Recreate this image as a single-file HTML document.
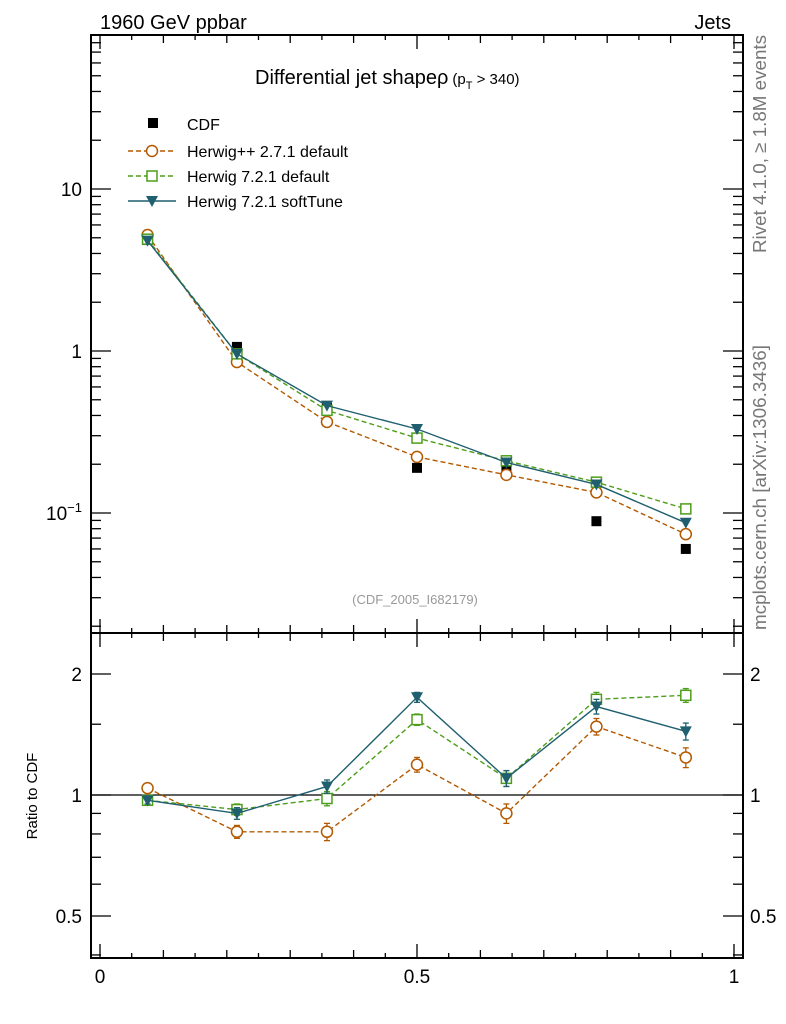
<!DOCTYPE html>
<html><head><meta charset="utf-8"><style>
body{margin:0;background:#fff;}
svg{display:block;font-family:"Liberation Sans",sans-serif;}
</style></head><body>
<svg id="c" width="786" height="1024"></svg>
<script>
const xVals=[0.075,0.216,0.358,0.5,0.641,0.783,0.924];
const cdf=[4.84,1.06,0.445,0.19,0.187,0.089,0.06];
const hpp=[5.2,0.855,0.365,0.222,0.172,0.134,0.074];
const h7=[4.9,0.96,0.43,0.29,0.21,0.155,0.106];
const h7s=[4.8,0.96,0.46,0.33,0.205,0.15,0.087];
const rHpp=[1.04,0.81,0.81,1.19,0.90,1.48,1.24];
const rH7=[0.97,0.92,0.98,1.54,1.10,1.73,1.77];
const rH7s=[0.97,0.90,1.05,1.75,1.10,1.66,1.44];
const rErr=[0.02,0.03,0.04,0.05,0.05,0.07,0.07];
const xTicks=[0,0.5,1];
const yTicks=[0.1,1,10];
const rTicks=[0.5,1,2];

const NS="http://www.w3.org/2000/svg";
const svg=document.getElementById('c');
function el(t,a,p){const e=document.createElementNS(NS,t);for(const k in a)e.setAttribute(k,a[k]);(p||svg).appendChild(e);return e;}
const L=91,R=743,T=35,M=633,B=958;
const X=v=>100+v*634;
const Y=v=>189-(Math.log10(v)-1)*162;
const RY=v=>795-Math.log2(v)*121;

let f1=el('rect',{x:L,y:T,width:R-L,height:M-T,fill:'none',stroke:'#000','stroke-width':2});

let f2=el('rect',{x:L,y:M,width:R-L,height:B-M,fill:'none',stroke:'#000','stroke-width':2});


for(let i=0;i<=20;i++){const v=i*0.05,x=X(v);const len=(i%10==0)?14:(i%2==0?8:5);
 for(const yb of [M,B]){el('line',{x1:x,x2:x,y1:yb,y2:yb-len,stroke:'#000','stroke-width':1.3});}
 el('line',{x1:x,x2:x,y1:T,y2:T+len,stroke:'#000','stroke-width':1.3});
 el('line',{x1:x,x2:x,y1:M,y2:M+len,stroke:'#000','stroke-width':1.3});}
xTicks.forEach(v=>{const t=el('text',{x:X(v),y:983,'font-size':19,'text-anchor':'middle'});t.textContent=String(v);
 });

for(let d=-2;d<=1;d++)for(let m=1;m<=9;m++){const v=m*Math.pow(10,d),y=Y(v);if(y<T||y>M)continue;
 const len=m==1?20:10;el('line',{x1:L,x2:L+len,y1:y,y2:y,stroke:'#000','stroke-width':1.3});el('line',{x1:R,x2:R-len,y1:y,y2:y,stroke:'#000','stroke-width':1.3});}
yTicks.forEach(v=>{const y=Y(v);const t=el('text',{x:82,y:y+7,'font-size':19,'text-anchor':'end'});
 
 if(v==0.1){t.textContent='10';const s=el('tspan',{dy:-8,'font-size':13},t);s.textContent='\u22121';}else t.textContent=String(v);});

[0.4,0.5,0.6,0.7,0.8,0.9,1,1.5,2].forEach(v=>{const y=RY(v);if(y<M||y>B)return;const len=(v==0.5||v==1||v==2)?20:10;
 el('line',{x1:L,x2:L+len,y1:y,y2:y,stroke:'#000','stroke-width':1.3});el('line',{x1:R,x2:R-len,y1:y,y2:y,stroke:'#000','stroke-width':1.3});});
rTicks.forEach(v=>{const y=RY(v);for(const [x,a] of [[82,'end'],[750,'start']]){const t=el('text',{x:x,y:y+7,'font-size':19,'text-anchor':a});t.textContent=String(v);
 }});
el('line',{x1:L,x2:R,y1:RY(1),y2:RY(1),stroke:'#000','stroke-width':1.3});

function txt(s,a,name){const t=el('text',a);t.textContent=s;return t;}
txt('1960 GeV ppbar',{x:100,y:29,'font-size':20},'header-left');
txt('Jets',{x:731,y:29,'font-size':20,'text-anchor':'end'},'header-right');
const tt=txt('Differential jet shape\u03c1',{x:255,y:84,'font-size':20},'plot-title');
const ts=el('tspan',{'font-size':15,dx:4},tt);ts.textContent='(p';const ts2=el('tspan',{'font-size':11,dy:5},tt);ts2.textContent='T';const ts3=el('tspan',{'font-size':15,dy:-5},tt);ts3.textContent=' > 340)';
txt('(CDF_2005_I682179)',{x:415,y:604,'font-size':13,fill:'#999','text-anchor':'middle'},'analysis-id');
txt('Rivet 4.1.0, \u2265 1.8M events',{x:0,y:0,'font-size':18.5,fill:'#777',transform:'translate(766,253) rotate(-90)',textLength:218,lengthAdjust:'spacingAndGlyphs'},'rivet-label');
txt('mcplots.cern.ch [arXiv:1306.3436]',{x:0,y:0,'font-size':18.5,fill:'#777',transform:'translate(766,630) rotate(-90)',textLength:285,lengthAdjust:'spacingAndGlyphs'},'mcplots-label');
txt('Ratio to CDF',{x:0,y:0,'font-size':15,'text-anchor':'middle',transform:'translate(37,796) rotate(-90)'},'ratio-y-title');

const series=[
 {n:'herwigpp',c:'#b35900',d:'5,3',m:'circle',main:hpp,r:rHpp,label:'Herwig++ 2.7.1 default'},
 {n:'herwig7-default',c:'#4d9e1a',d:'5,3',m:'square',main:h7,r:rH7,label:'Herwig 7.2.1 default'},
 {n:'herwig7-softtune',c:'#1f5f6f',d:'',m:'tri',main:h7s,r:rH7s,label:'Herwig 7.2.1 softTune'}];
function marker(m,x,y,c,g){if(m=='circle')return el('circle',{cx:x,cy:y,r:5.5,fill:'#fff',stroke:c,'stroke-width':1.5},g);
 if(m=='square')return el('rect',{x:x-5,y:y-5,width:10,height:10,fill:'#fff',stroke:c,'stroke-width':1.5},g);
 return el('path',{d:`M${x-6},${y-5}L${x+6},${y-5}L${x},${y+6}Z`,fill:c},g);}
const gd=el('g',{});
xVals.forEach((x,i)=>el('rect',{x:X(x)-5,y:Y(cdf[i])-5,width:10,height:10,fill:'#000'},gd));
series.forEach(s=>{
 const g=el('g',{});
 el('polyline',{points:xVals.map((x,i)=>X(x)+','+Y(s.main[i])).join(' '),fill:'none',stroke:s.c,'stroke-width':1.4,'stroke-dasharray':s.d},g);
 xVals.forEach((x,i)=>marker(s.m,X(x),Y(s.main[i]),s.c,g));
 const gr=el('g',{});
 el('polyline',{points:xVals.map((x,i)=>X(x)+','+RY(s.r[i])).join(' '),fill:'none',stroke:s.c,'stroke-width':1.4,'stroke-dasharray':s.d},gr);
 xVals.forEach((x,i)=>{const px=X(x),y1=RY(s.r[i]+rErr[i]),y2=RY(s.r[i]-rErr[i]);
  el('line',{x1:px,x2:px,y1:y1,y2:y2,stroke:s.c,'stroke-width':1.3},gr);
  el('line',{x1:px-3,x2:px+3,y1:y1,y2:y1,stroke:s.c,'stroke-width':1.3},gr);
  el('line',{x1:px-3,x2:px+3,y1:y2,y2:y2,stroke:s.c,'stroke-width':1.3},gr);
  marker(s.m,px,RY(s.r[i]),s.c,gr);});
});
const lg=el('g',{});
el('rect',{x:148,y:118,width:10,height:10,fill:'#000'},lg);
let lt=el('text',{x:187,y:130,'font-size':16},lg);lt.textContent='CDF';
series.forEach((s,i)=>{const y=151+i*25;
 el('line',{x1:128,x2:176,y1:y,y2:y,stroke:s.c,'stroke-width':1.4,'stroke-dasharray':s.d},lg);
 marker(s.m,152,y,s.c,lg);
 const t=el('text',{x:187,y:y+6,'font-size':16},lg);t.textContent=s.label;
 });
</script>
</body></html>
